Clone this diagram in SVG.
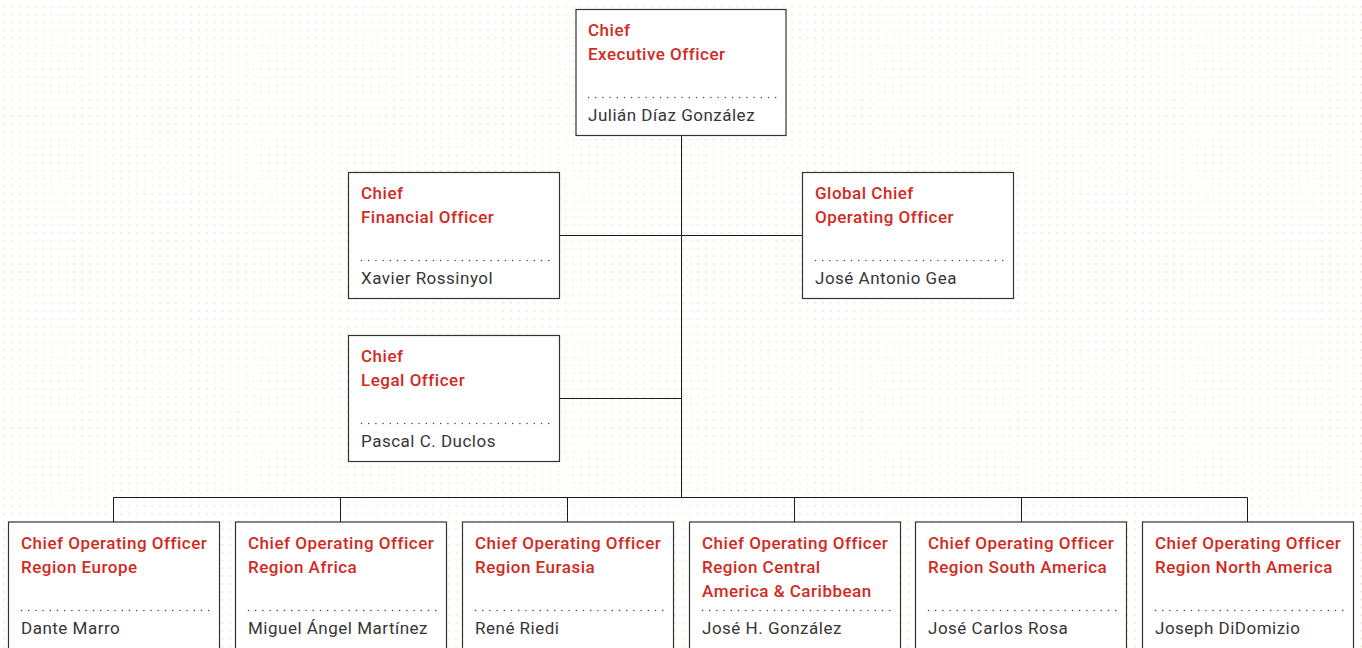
<svg xmlns="http://www.w3.org/2000/svg" width="1362" height="648" viewBox="0 0 1362 648">
  <defs>
    <pattern id="dotgrid" x="0" y="0" width="7.8" height="7.8" patternUnits="userSpaceOnUse">
      <rect x="3.6" y="6.2" width="1.1" height="1.1" fill="#edbb7f" opacity="0.9"/>
    </pattern>
    <style>
      .box { fill: #ffffff; stroke: #333333; stroke-width: 1.2; }
      .title { font-family: Roboto, "Liberation Sans", sans-serif; font-weight: 500; font-size: 17px; letter-spacing: 0.5px; fill: #d22a1f; }
      .name { font-family: Roboto, "Liberation Sans", sans-serif; font-weight: 400; font-size: 17px; letter-spacing: 0.5px; fill: #363636; }
      .sep { stroke: #444444; stroke-width: 1.5; stroke-linecap: round; stroke-dasharray: 0 7.2; fill: none; }
      .wire { stroke: #1a1a1a; stroke-width: 1; fill: none; }
    </style>
  </defs>

  <!-- dotted paper background -->
  <rect x="0" y="0" width="1362" height="648" fill="#ffffff"/>
  <rect x="0" y="0" width="1362" height="648" fill="url(#dotgrid)"/>

  <!-- reporting lines -->
  <g id="connectors">
    <path class="wire" d="M681.5 135 V498"/>
    <path class="wire" d="M559 235.5 H802.5"/>
    <path class="wire" d="M559 398.5 H681.5"/>
    <path class="wire" d="M113.5 497.5 H1247.5"/>
    <path class="wire" d="M113.5 497.5 V522 M340.5 497.5 V522 M567.5 497.5 V522 M794.5 497.5 V522 M1021.5 497.5 V522 M1247.5 497.5 V522"/>
  </g>

  <g id="ceo">
    <rect class="box" x="576" y="9.5" width="210" height="126"/>
    <text class="title" x="588" y="36">Chief</text>
    <text class="title" x="588" y="60">Executive Officer</text>
    <line class="sep" x1="588.5" y1="97.5" x2="776" y2="97.5"/>
    <text class="name" x="588" y="121">Julián Díaz González</text>
  </g>

  <g id="cfo">
    <rect class="box" x="348.5" y="172.5" width="211" height="126"/>
    <text class="title" x="361" y="199">Chief</text>
    <text class="title" x="361" y="223">Financial Officer</text>
    <line class="sep" x1="361.5" y1="260.5" x2="549" y2="260.5"/>
    <text class="name" x="361" y="284">Xavier Rossinyol</text>
  </g>

  <g id="global-coo">
    <rect class="box" x="802.5" y="172.5" width="211" height="126"/>
    <text class="title" x="815" y="199">Global Chief</text>
    <text class="title" x="815" y="223">Operating Officer</text>
    <line class="sep" x1="815.5" y1="260.5" x2="1003" y2="260.5"/>
    <text class="name" x="815" y="284">José Antonio Gea</text>
  </g>

  <g id="clo">
    <rect class="box" x="348.5" y="335.5" width="211" height="126"/>
    <text class="title" x="361" y="362">Chief</text>
    <text class="title" x="361" y="386">Legal Officer</text>
    <line class="sep" x1="361.5" y1="423.5" x2="549" y2="423.5"/>
    <text class="name" x="361" y="447">Pascal C. Duclos</text>
  </g>

  <g id="coo-europe">
    <rect class="box" x="8.5" y="522" width="211" height="140"/>
    <text class="title" x="21" y="549">Chief Operating Officer</text>
    <text class="title" x="21" y="573">Region Europe</text>
    <line class="sep" x1="21.5" y1="610.5" x2="209" y2="610.5"/>
    <text class="name" x="21" y="634">Dante Marro</text>
  </g>

  <g id="coo-africa">
    <rect class="box" x="235.5" y="522" width="211" height="140"/>
    <text class="title" x="248" y="549">Chief Operating Officer</text>
    <text class="title" x="248" y="573">Region Africa</text>
    <line class="sep" x1="248.5" y1="610.5" x2="436" y2="610.5"/>
    <text class="name" x="248" y="634">Miguel Ángel Martínez</text>
  </g>

  <g id="coo-eurasia">
    <rect class="box" x="462.5" y="522" width="211" height="140"/>
    <text class="title" x="475" y="549">Chief Operating Officer</text>
    <text class="title" x="475" y="573">Region Eurasia</text>
    <line class="sep" x1="475.5" y1="610.5" x2="663" y2="610.5"/>
    <text class="name" x="475" y="634">René Riedi</text>
  </g>

  <g id="coo-central-america">
    <rect class="box" x="689.5" y="522" width="211" height="140"/>
    <text class="title" x="702" y="549">Chief Operating Officer</text>
    <text class="title" x="702" y="573">Region Central</text>
    <text class="title" x="702" y="597">America &amp; Caribbean</text>
    <line class="sep" x1="702.5" y1="610.5" x2="890" y2="610.5"/>
    <text class="name" x="702" y="634">José H. González</text>
  </g>

  <g id="coo-south-america">
    <rect class="box" x="915.5" y="522" width="211" height="140"/>
    <text class="title" x="928" y="549">Chief Operating Officer</text>
    <text class="title" x="928" y="573">Region South America</text>
    <line class="sep" x1="928.5" y1="610.5" x2="1116" y2="610.5"/>
    <text class="name" x="928" y="634">José Carlos Rosa</text>
  </g>

  <g id="coo-north-america">
    <rect class="box" x="1142.5" y="522" width="211" height="140"/>
    <text class="title" x="1155" y="549">Chief Operating Officer</text>
    <text class="title" x="1155" y="573">Region North America</text>
    <line class="sep" x1="1155.5" y1="610.5" x2="1343" y2="610.5"/>
    <text class="name" x="1155" y="634">Joseph DiDomizio</text>
  </g>
</svg>
